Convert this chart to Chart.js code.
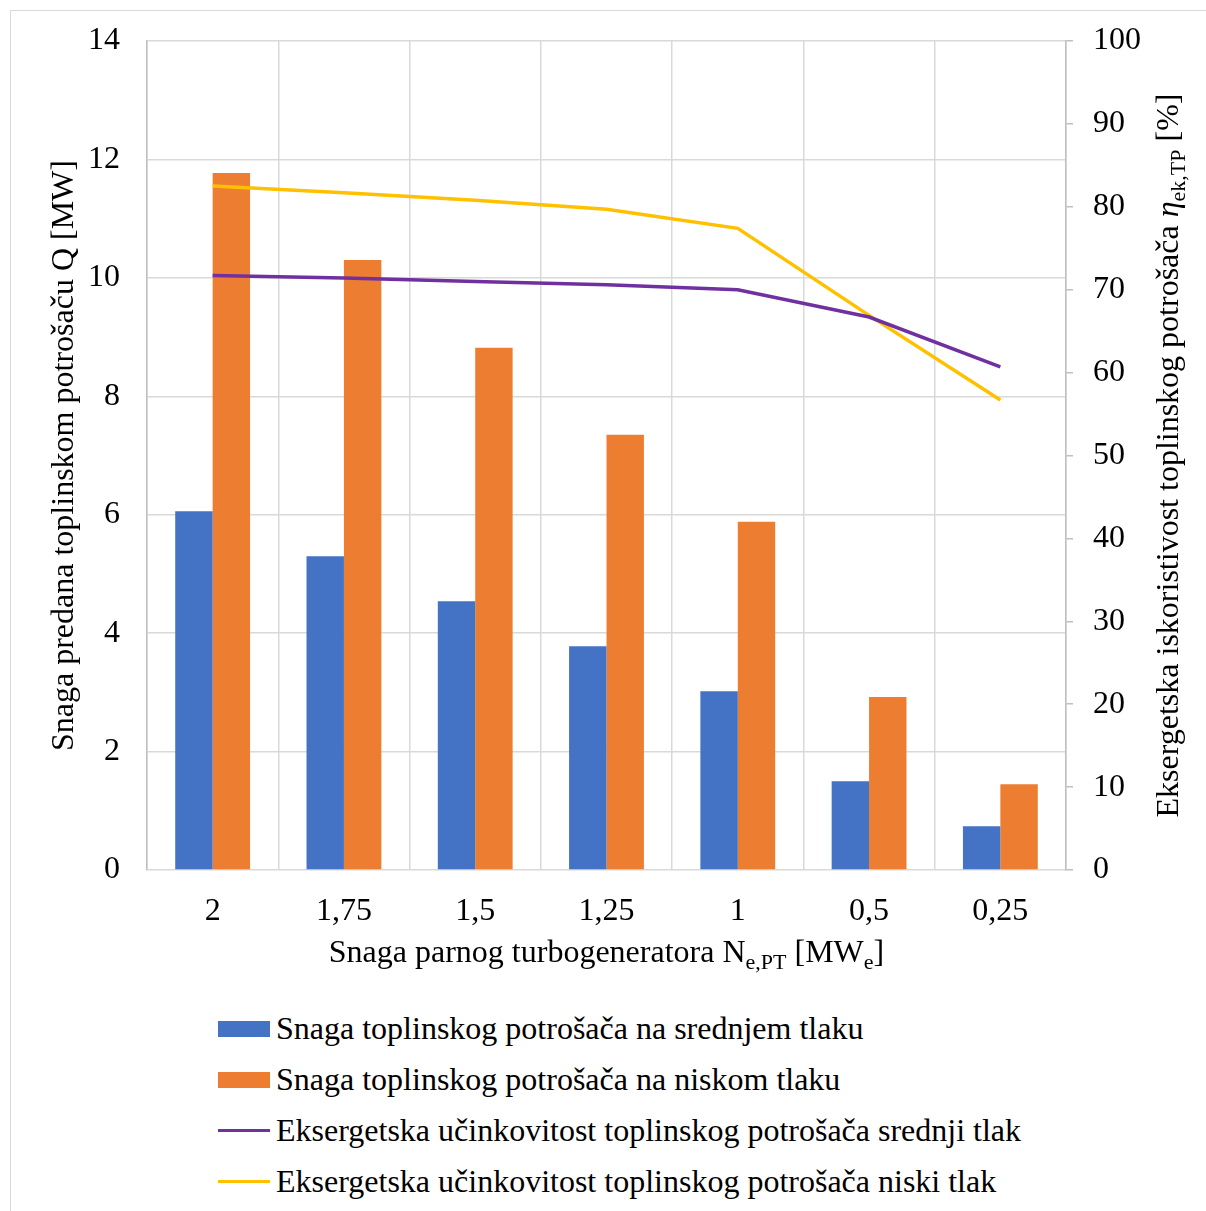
<!DOCTYPE html>
<html>
<head>
<meta charset="utf-8">
<script src="https://cdn.jsdelivr.net/npm/chart.js@4.4.1/dist/chart.umd.min.js"></script>
<style>
  html, body { margin: 0; padding: 0; background: #fff; }
  body { width: 1206px; height: 1211px; position: relative; overflow: hidden; font-family: "Liberation Serif", "Times New Roman", serif; }
  #frame { position: absolute; left: 10px; top: 10px; width: 1200px; height: 1205px; border: 1.5px solid #d9d9d9; box-sizing: border-box; }
  #wrap { position: absolute; left: 0; top: 0; width: 1206px; height: 1000px; }
  #legend { position: absolute; left: 218px; top: 1003px; }
  .item { height: 51px; display: flex; align-items: center; font-size: 32px; color: #000; white-space: nowrap; }
  .mark { width: 52px; margin-right: 6px; }
</style>
</head>
<body>
<div id="frame"></div>
<div id="wrap"><canvas id="myChart" width="1206" height="1000"></canvas></div>
<div id="legend"></div>
<script>
// x categories: Snaga parnog turbogeneratora [MWe]
const categories = ["2", "1,75", "1,5", "1,25", "1", "0,5", "0,25"];

// Bars, left axis [MW]
const srednjiQ = [6.06, 5.30, 4.54, 3.78, 3.02, 1.50, 0.74];
const niskiQ = [11.77, 10.30, 8.82, 7.35, 5.88, 2.92, 1.45];

// Lines, right axis [%]
const srednjiEta = [71.7, 71.4, 71.0, 70.6, 70.0, 66.7, 60.7];
const niskiEta = [82.5, 81.7, 80.8, 79.7, 77.4, 66.9, 56.7];

const leftTicks = [0, 2, 4, 6, 8, 10, 12, 14];
const rightTicks = [0, 10, 20, 30, 40, 50, 60, 70, 80, 90, 100];

const labels = [
  "Snaga toplinskog potrošača na srednjem tlaku",
  "Snaga toplinskog potrošača na niskom tlaku",
  "Eksergetska učinkovitost toplinskog potrošača srednji tlak",
  "Eksergetska učinkovitost toplinskog potrošača niski tlak",
];
const colors = ["#4472C4", "#ED7D31", "#7030A0", "#FFC000"];

const FONT = '"Liberation Serif", "Times New Roman", serif';
Chart.defaults.font.family = FONT;
Chart.defaults.font.size = 32;
Chart.defaults.color = "#000";

// text with subscripts, drawn centred at (0,0) of the current transform
function richText(ctx, parts) {
  const big = "32px " + FONT;
  const small = "22px " + FONT;
  let total = 0;
  parts.forEach(p => {
    ctx.font = (p.italic ? "italic " : "") + (p.sub ? small : big);
    p.w = ctx.measureText(p.t).width;
    total += p.w;
  });
  let x = -total / 2;
  ctx.textBaseline = "middle";
  ctx.textAlign = "left";
  parts.forEach(p => {
    ctx.font = (p.italic ? "italic " : "") + (p.sub ? small : big);
    ctx.fillText(p.t, x, p.sub ? 9 : 0);
    x += p.w;
  });
}

const axisTitles = {
  id: "axisTitles",
  afterDraw(chart) {
    const ctx = chart.ctx;
    const a = chart.chartArea;
    const midY = (a.top + a.bottom) / 2;
    ctx.save();
    ctx.fillStyle = "#000";

    // left
    ctx.save();
    ctx.translate(65, midY);
    ctx.rotate(-Math.PI / 2);
    richText(ctx, [{ t: "Snaga predana toplinskom potrošaču Q [MW]" }]);
    ctx.restore();

    // right
    ctx.save();
    ctx.translate(1170, midY);
    ctx.rotate(-Math.PI / 2);
    richText(ctx, [
      { t: "Eksergetska iskoristivost toplinskog potrošača " },
      { t: "η", italic: true },
      { t: "ek,TP", sub: true },
      { t: " [%]" },
    ]);
    ctx.restore();

    // bottom
    ctx.save();
    ctx.translate((a.left + a.right) / 2, 954);
    richText(ctx, [
      { t: "Snaga parnog turbogeneratora N" },
      { t: "e,PT", sub: true },
      { t: " [MW" },
      { t: "e", sub: true },
      { t: "]" },
    ]);
    ctx.restore();

    ctx.restore();
  },
};

let myChart = document.getElementById("myChart").getContext("2d");

let heatChart = new Chart(myChart, {
  data: {
    labels: categories,
    datasets: [
      {
        type: "bar",
        label: labels[0],
        data: srednjiQ,
        backgroundColor: colors[0],
        yAxisID: "y",
        order: 2,
        barPercentage: 1,
        categoryPercentage: 0.57,
      },
      {
        type: "bar",
        label: labels[1],
        data: niskiQ,
        backgroundColor: colors[1],
        yAxisID: "y",
        order: 2,
        barPercentage: 1,
        categoryPercentage: 0.57,
      },
      {
        type: "line",
        label: labels[2],
        data: srednjiEta,
        borderColor: colors[2],
        borderWidth: 3.5,
        pointRadius: 0,
        tension: 0,
        yAxisID: "y1",
        order: 1,
      },
      {
        type: "line",
        label: labels[3],
        data: niskiEta,
        borderColor: colors[3],
        borderWidth: 3.5,
        pointRadius: 0,
        tension: 0,
        yAxisID: "y1",
        order: 1,
      },
    ],
  },
  options: {
    responsive: false,
    animation: false,
    layout: { padding: { top: 41, left: 0, right: 0, bottom: 0 } },
    plugins: {
      legend: { display: false },
      tooltip: { enabled: false },
    },
    scales: {
      x: {
        offset: true,
        grid: { color: "#d9d9d9", lineWidth: 1.5, drawTicks: false, offset: true },
        border: { display: false },
        ticks: { padding: 22 },
        afterFit: s => { s.height = 130; },
      },
      y: {
        position: "left",
        min: 0,
        max: 14,
        afterBuildTicks: s => { s.ticks = leftTicks.map(v => ({ value: v })); },
        grid: { color: "#d9d9d9", lineWidth: 1.5, drawTicks: false },
        border: { color: "#bfbfbf", width: 1.5 },
        ticks: { padding: 27 },
        afterFit: s => { s.width = 147; s.paddingTop = 0; s.paddingBottom = 0; },
      },
      y1: {
        position: "right",
        min: 0,
        max: 100,
        afterBuildTicks: s => { s.ticks = rightTicks.map(v => ({ value: v })); },
        grid: { drawOnChartArea: false, drawTicks: true, tickLength: 7, color: "#bfbfbf", lineWidth: 1.5 },
        border: { color: "#bfbfbf", width: 1.5 },
        ticks: { padding: 20 },
        afterFit: s => { s.width = 140; s.paddingTop = 0; s.paddingBottom = 0; },
      },
    },
  },
  plugins: [axisTitles],
});

// legend, one entry per line
const legend = document.getElementById("legend");
labels.forEach((text, i) => {
  const row = document.createElement("div");
  row.className = "item";
  const mark = document.createElement("span");
  mark.className = "mark";
  mark.style.height = i < 2 ? "16px" : "3px";
  mark.style.background = colors[i];
  const label = document.createElement("span");
  label.textContent = text;
  row.appendChild(mark);
  row.appendChild(label);
  legend.appendChild(row);
});
</script>
</body>
</html>
